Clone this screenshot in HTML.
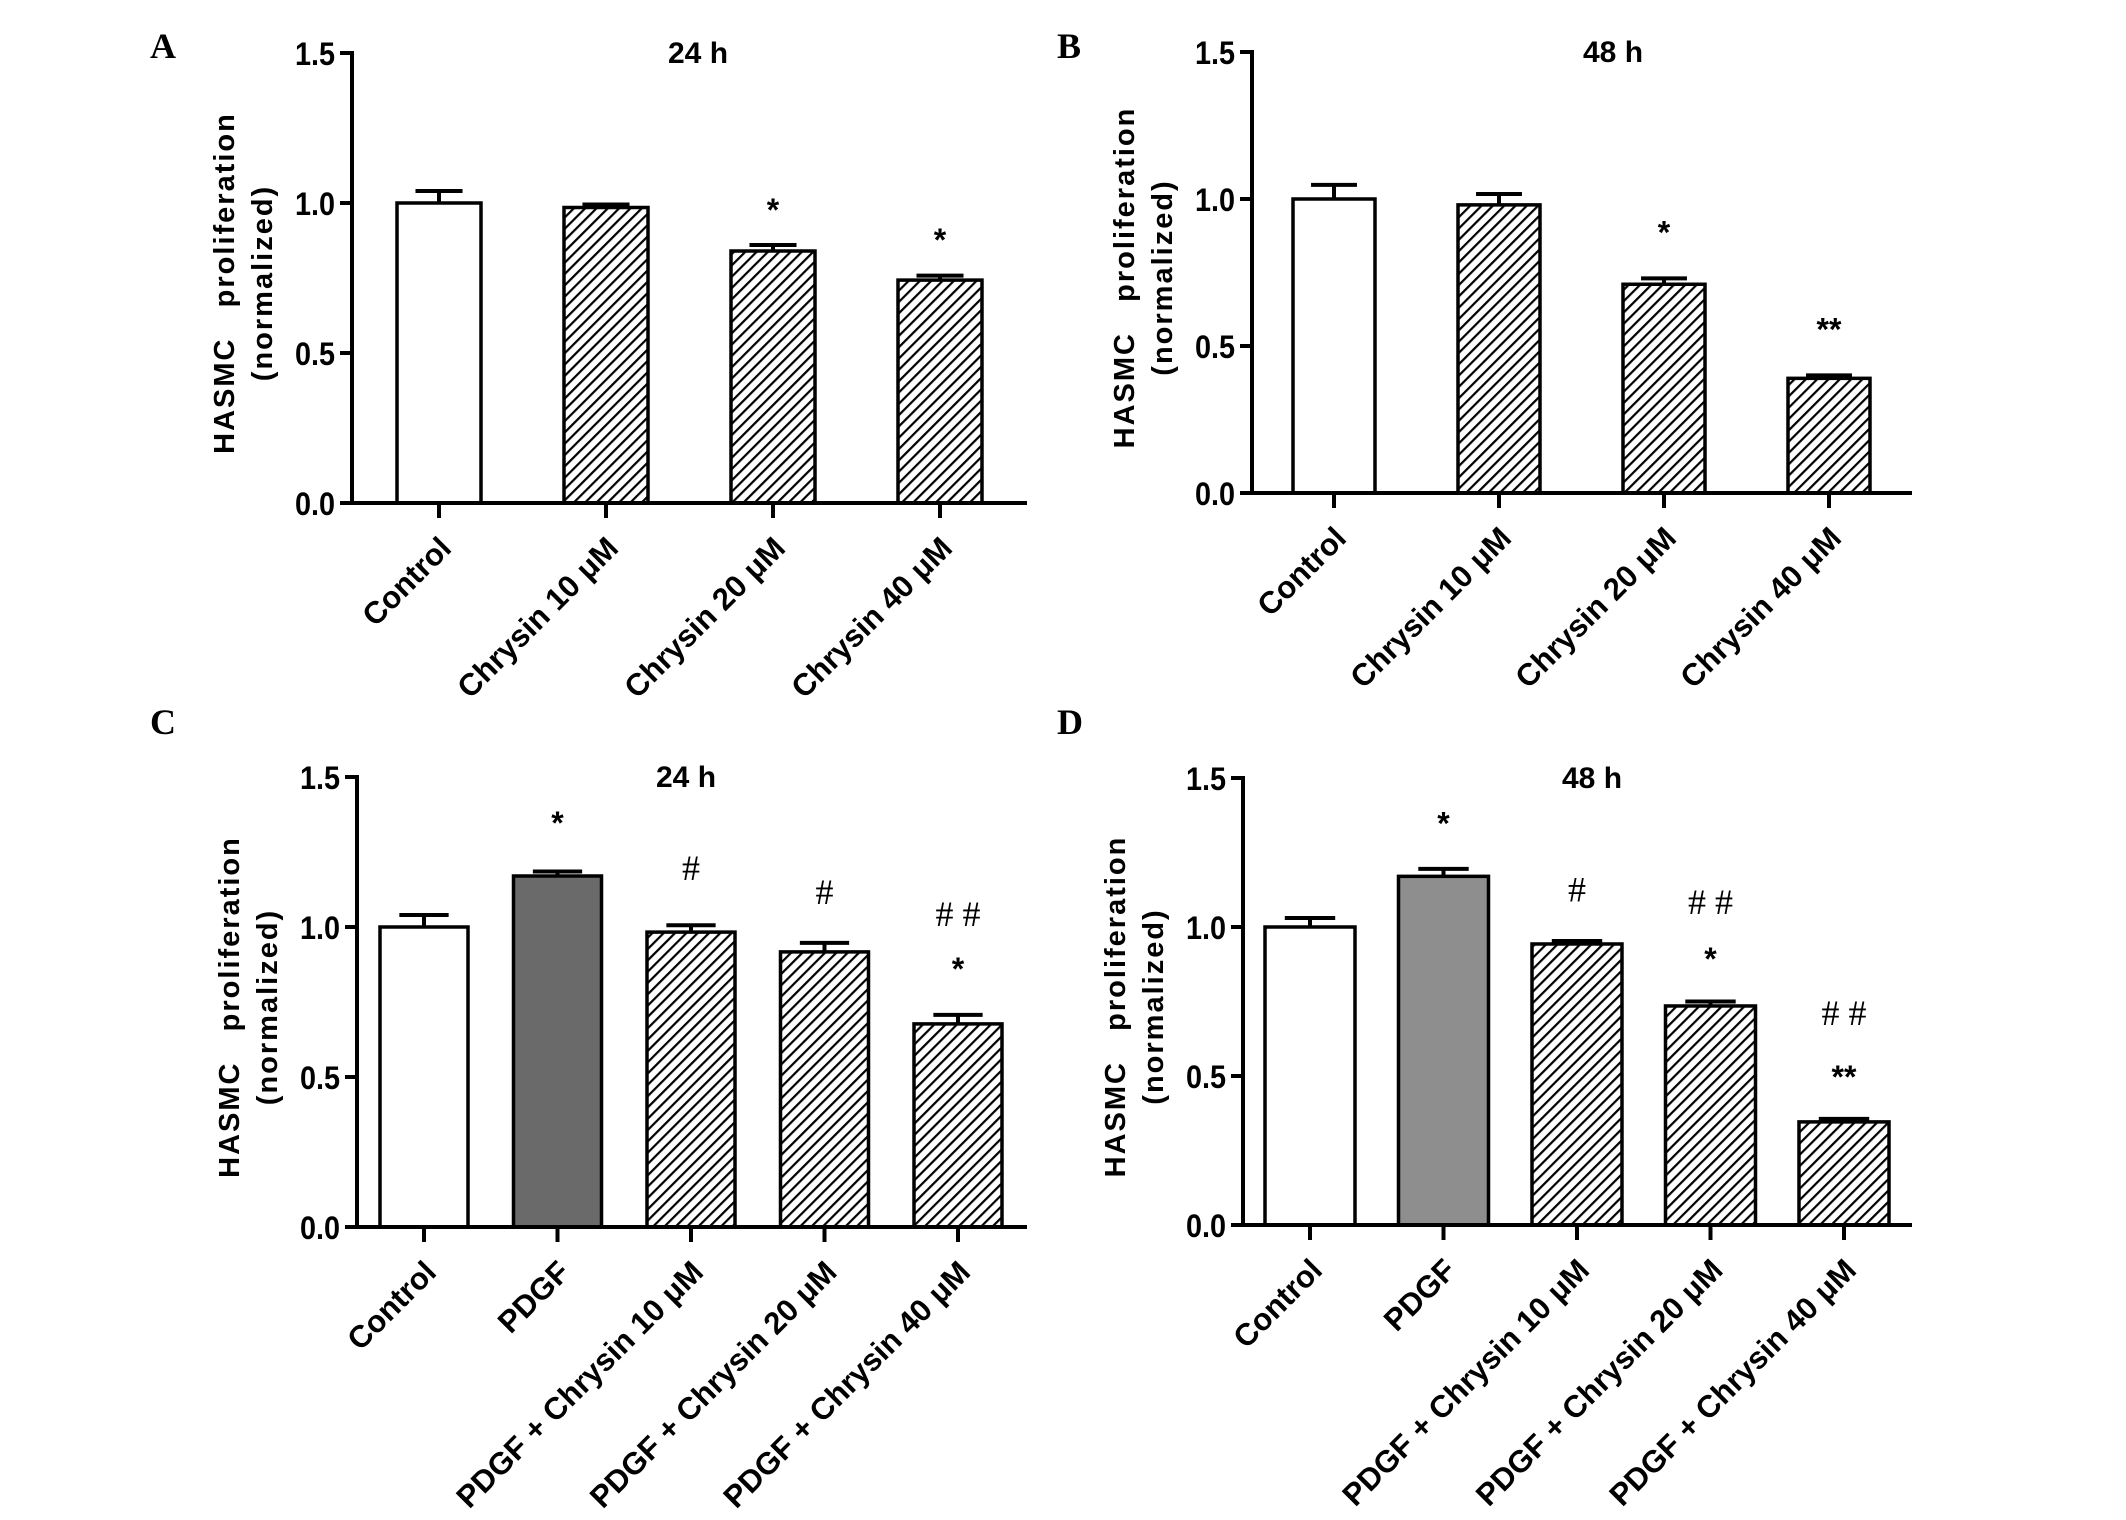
<!DOCTYPE html>
<html><head><meta charset="utf-8"><style>
html,body{margin:0;padding:0;background:#fff}
svg text{font-family:"Liberation Sans",sans-serif;font-weight:bold;fill:#000}
</style></head><body>
<svg id="fig" width="2126" height="1515" viewBox="0 0 2126 1515" xmlns="http://www.w3.org/2000/svg">
<defs>
<pattern id="hatch" patternUnits="userSpaceOnUse" width="8" height="8" patternTransform="rotate(45)">
<rect width="8" height="8" fill="#fff"/><rect x="0" y="0" width="2.2" height="8" fill="#000"/>
</pattern>
</defs>
</svg>
<script>
// Panel A data
const catsA = ["Control","Chrysin 10 μM","Chrysin 20 μM","Chrysin 40 μM"];
const valsA = [1.0,0.985,0.84,0.743];
const errsA = [0.04,0.01,0.02,0.015];
const annA = [[],[],[["*",1.0]],[["*",0.9]]];
// Panel B data
const catsB = ["Control","Chrysin 10 μM","Chrysin 20 μM","Chrysin 40 μM"];
const valsB = [1.0,0.98,0.71,0.39];
const errsB = [0.048,0.037,0.02,0.01];
const annB = [[],[],[["*",0.91]],[["**",0.58]]];
// Panel C data
const catsC = ["Control","PDGF","PDGF + Chrysin 10 μM","PDGF + Chrysin 20 μM","PDGF + Chrysin 40 μM"];
const valsC = [1.0,1.17,0.983,0.917,0.677];
const errsC = [0.04,0.015,0.023,0.03,0.03];
const annC = [[],[["*",1.37]],[["#",1.2]],[["#",1.12]],[["# #",1.047],["*",0.883]]];
// Panel D data
const catsD = ["Control","PDGF","PDGF + Chrysin 10 μM","PDGF + Chrysin 20 μM","PDGF + Chrysin 40 μM"];
const valsD = [1.0,1.17,0.943,0.735,0.346];
const errsD = [0.03,0.025,0.01,0.015,0.01];
const annD = [[],[["*",1.37]],[["#",1.13]],[["# #",1.087],["*",0.916]],[["# #",0.715],["**",0.52]]];
const yTicks = ["0.0","0.5","1.0","1.5"];

const NS="http://www.w3.org/2000/svg";
const svg=document.getElementById('fig');
function mk(tag,attrs,parent){const e=document.createElementNS(NS,tag);for(const k in attrs)e.setAttribute(k,attrs[k]);(parent||svg).appendChild(e);return e;}

function panel(p){
  const g=mk('g',{});
  
  
  const y=v=>p.y0-(p.y0-p.yTop)*v/1.5;
  const x=i=>p.x0+p.off+i*p.step;
  const L=mk('text',{x:p.lx,y:p.ly,'font-size':36},g);
  L.setAttribute('style','font-family:"Liberation Serif",serif');
  
  
  L.textContent=p.id;
  const T=mk('text',{x:p.tx,y:p.yTop+10,'font-size':30,'text-anchor':'middle'},g);
  
  
  T.textContent=p.title;
  p.vals.forEach((v,i)=>{
    const cx=x(i),w=p.bw;
    let fill='url(#hatch)';
    if(i===0) fill='#fff';
    else if(p.cats[i]==='PDGF') fill=p.pdgf;
    const eb=mk('path',{d:`M${cx} ${y(v)} V${y(v+p.errs[i])} M${cx-w*0.28} ${y(v+p.errs[i])} H${cx+w*0.28}`,stroke:'#000','stroke-width':4,fill:'none'},g);
    
    
    const r=mk('rect',{x:cx-w/2,y:y(v),width:w,height:p.y0-y(v),fill:fill,stroke:'#000','stroke-width':3.5},g);
    
    
    p.ann[i].forEach(a=>{
      const star=a[0].indexOf('*')>=0;
      const t=mk('text',{x:cx,y:y(a[1])+(star?18:13),'font-size':star?32:36,'text-anchor':'middle'},g);
      t.setAttribute('style',star?'font-weight:bold':'font-family:"Liberation Serif",serif;font-weight:normal');
      
      
      t.textContent=a[0];
    });
    const tk=mk('line',{x1:cx,x2:cx,y1:p.y0,y2:p.y0+15,stroke:'#000','stroke-width':4},g);
    
    
    const lx=cx+14,ly=p.y0+47;
    const xl=mk('text',{x:lx,y:ly,'font-size':31,'text-anchor':'end',transform:`rotate(-45 ${lx} ${ly})`},g);
    
    
    xl.textContent=p.cats[i];
  });
  const ya=mk('line',{x1:p.x0,x2:p.x0,y1:p.yTop-2,y2:p.y0+2,stroke:'#000','stroke-width':4},g);
  
  
  const xa=mk('line',{x1:p.x0-12,x2:p.xEnd,y1:p.y0,y2:p.y0,stroke:'#000','stroke-width':4},g);
  
  
  yTicks.forEach(t=>{
    const yy=y(parseFloat(t));
    const tl=mk('line',{x1:p.x0-12,x2:p.x0,y1:yy,y2:yy,stroke:'#000','stroke-width':4},g);
    
    
    const tt=mk('text',{x:0,y:0,'font-size':32,'text-anchor':'end',transform:`translate(${p.x0-17} ${yy+12}) scale(0.9 1)`},g);
    
    
    tt.textContent=t;
  });
  const cy=(p.y0+p.yTop)/2+5;
  const t1=mk('text',{x:0,y:0,'font-size':29,'text-anchor':'middle','letter-spacing':2,transform:`translate(${p.x0-118} ${cy}) rotate(-90)`},g);
  t1.setAttribute('style','white-space:pre');
  
  
  t1.textContent='HASMC   proliferation';
  const t2=mk('text',{x:0,y:0,'font-size':29,'text-anchor':'middle','letter-spacing':2,transform:`translate(${p.x0-80} ${cy}) rotate(-90)`},g);
  
  
  t2.textContent='(normalized)';
}

panel({id:'A',title:'24 h',cats:catsA,vals:valsA,errs:errsA,ann:annA,x0:352,yTop:53,y0:503,xEnd:1027,off:87,step:167,bw:84,lx:150,ly:58,tx:698,pdgf:'#6a6a6a'});
panel({id:'B',title:'48 h',cats:catsB,vals:valsB,errs:errsB,ann:annB,x0:1252,yTop:52,y0:493,xEnd:1912,off:82,step:165,bw:82,lx:1057,ly:58,tx:1613,pdgf:'#6a6a6a'});
panel({id:'C',title:'24 h',cats:catsC,vals:valsC,errs:errsC,ann:annC,x0:357,yTop:777,y0:1227,xEnd:1027,off:67,step:133.5,bw:88,lx:150,ly:734,tx:686,pdgf:'#6a6a6a'});
panel({id:'D',title:'48 h',cats:catsD,vals:valsD,errs:errsD,ann:annD,x0:1243,yTop:778,y0:1225,xEnd:1912,off:67,step:133.5,bw:90,lx:1057,ly:734,tx:1592,pdgf:'#8e8e8e'});
</script>
</body></html>
